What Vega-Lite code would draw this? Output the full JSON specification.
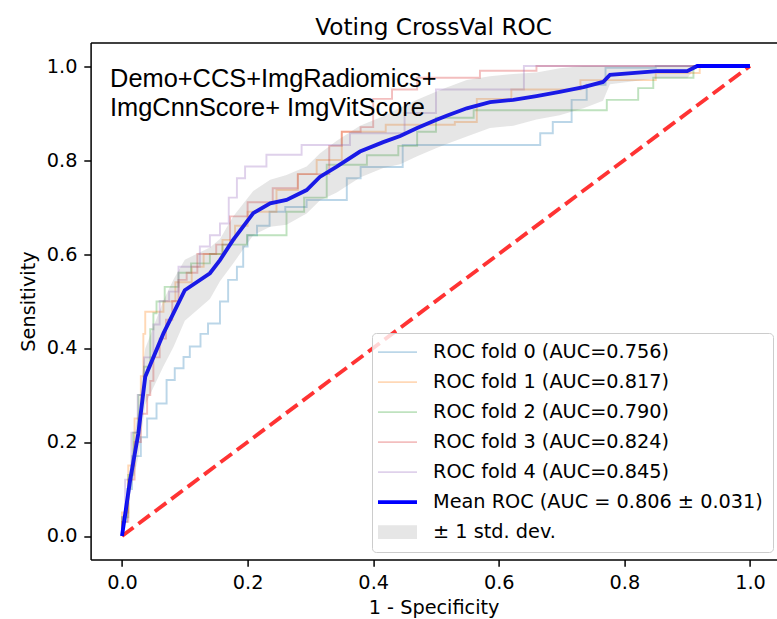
{
  "$schema": "https://vega.github.io/schema/vega-lite/v6.json",
  "autosize": {"type": "none"},
  "padding": {"left": 90.6, "top": 42.5, "right": 0, "bottom": 59.5},
  "width": 686,
  "height": 517,
  "background": "white",
  "title": {"text": "Voting CrossVal ROC", "font": "DejaVu Sans", "fontSize": 23.2, "fontWeight": "normal", "color": "black", "anchor": "middle", "baseline": "alphabetic", "offset": -15.5},
  "config": {
    "view": {"stroke": null},
    "font": "DejaVu Sans",
    "axis": {"labelFont": "DejaVu Sans", "labelFontSize": 19.3, "labelColor": "black", "titleFont": "DejaVu Sans", "titleFontSize": 19.3, "titleFontWeight": "normal", "titleColor": "black", "domainColor": "black", "domainWidth": 1.5, "tickColor": "black", "tickWidth": 1.5, "tickSize": 6.8, "labelPadding": 6.8}
  },
  "datasets": {
    "folds": [
      {"s":"ROC fold 0 (AUC=0.756)","fpr":0,"tpr":0},{"s":"ROC fold 0 (AUC=0.756)","fpr":0.008,"tpr":0.03},{"s":"ROC fold 0 (AUC=0.756)","fpr":0.016,"tpr":0.1},{"s":"ROC fold 0 (AUC=0.756)","fpr":0.03,"tpr":0.17},{"s":"ROC fold 0 (AUC=0.756)","fpr":0.04,"tpr":0.21},{"s":"ROC fold 0 (AUC=0.756)","fpr":0.055,"tpr":0.25},{"s":"ROC fold 0 (AUC=0.756)","fpr":0.071,"tpr":0.282},{"s":"ROC fold 0 (AUC=0.756)","fpr":0.084,"tpr":0.332},{"s":"ROC fold 0 (AUC=0.756)","fpr":0.098,"tpr":0.357},{"s":"ROC fold 0 (AUC=0.756)","fpr":0.108,"tpr":0.381},{"s":"ROC fold 0 (AUC=0.756)","fpr":0.125,"tpr":0.403},{"s":"ROC fold 0 (AUC=0.756)","fpr":0.137,"tpr":0.43},{"s":"ROC fold 0 (AUC=0.756)","fpr":0.156,"tpr":0.452},{"s":"ROC fold 0 (AUC=0.756)","fpr":0.169,"tpr":0.499},{"s":"ROC fold 0 (AUC=0.756)","fpr":0.183,"tpr":0.545},{"s":"ROC fold 0 (AUC=0.756)","fpr":0.193,"tpr":0.573},{"s":"ROC fold 0 (AUC=0.756)","fpr":0.2,"tpr":0.616},{"s":"ROC fold 0 (AUC=0.756)","fpr":0.215,"tpr":0.64},{"s":"ROC fold 0 (AUC=0.756)","fpr":0.235,"tpr":0.66},{"s":"ROC fold 0 (AUC=0.756)","fpr":0.26,"tpr":0.69},{"s":"ROC fold 0 (AUC=0.756)","fpr":0.294,"tpr":0.7},{"s":"ROC fold 0 (AUC=0.756)","fpr":0.358,"tpr":0.715},{"s":"ROC fold 0 (AUC=0.756)","fpr":0.38,"tpr":0.761},{"s":"ROC fold 0 (AUC=0.756)","fpr":0.447,"tpr":0.785},{"s":"ROC fold 0 (AUC=0.756)","fpr":0.666,"tpr":0.832},{"s":"ROC fold 0 (AUC=0.756)","fpr":0.686,"tpr":0.857},{"s":"ROC fold 0 (AUC=0.756)","fpr":0.716,"tpr":0.881},{"s":"ROC fold 0 (AUC=0.756)","fpr":0.74,"tpr":0.928},{"s":"ROC fold 0 (AUC=0.756)","fpr":0.77,"tpr":0.96},{"s":"ROC fold 0 (AUC=0.756)","fpr":0.85,"tpr":0.996},{"s":"ROC fold 0 (AUC=0.756)","fpr":1,"tpr":1},
      {"s":"ROC fold 1 (AUC=0.817)","fpr":0,"tpr":0},{"s":"ROC fold 1 (AUC=0.817)","fpr":0.01,"tpr":0.05},{"s":"ROC fold 1 (AUC=0.817)","fpr":0.02,"tpr":0.15},{"s":"ROC fold 1 (AUC=0.817)","fpr":0.03,"tpr":0.25},{"s":"ROC fold 1 (AUC=0.817)","fpr":0.034,"tpr":0.34},{"s":"ROC fold 1 (AUC=0.817)","fpr":0.037,"tpr":0.43},{"s":"ROC fold 1 (AUC=0.817)","fpr":0.066,"tpr":0.477},{"s":"ROC fold 1 (AUC=0.817)","fpr":0.085,"tpr":0.499},{"s":"ROC fold 1 (AUC=0.817)","fpr":0.111,"tpr":0.54},{"s":"ROC fold 1 (AUC=0.817)","fpr":0.13,"tpr":0.573},{"s":"ROC fold 1 (AUC=0.817)","fpr":0.16,"tpr":0.6},{"s":"ROC fold 1 (AUC=0.817)","fpr":0.18,"tpr":0.63},{"s":"ROC fold 1 (AUC=0.817)","fpr":0.2,"tpr":0.66},{"s":"ROC fold 1 (AUC=0.817)","fpr":0.246,"tpr":0.69},{"s":"ROC fold 1 (AUC=0.817)","fpr":0.28,"tpr":0.736},{"s":"ROC fold 1 (AUC=0.817)","fpr":0.31,"tpr":0.77},{"s":"ROC fold 1 (AUC=0.817)","fpr":0.35,"tpr":0.8},{"s":"ROC fold 1 (AUC=0.817)","fpr":0.42,"tpr":0.86},{"s":"ROC fold 1 (AUC=0.817)","fpr":0.53,"tpr":0.875},{"s":"ROC fold 1 (AUC=0.817)","fpr":0.565,"tpr":0.881},{"s":"ROC fold 1 (AUC=0.817)","fpr":0.62,"tpr":0.93},{"s":"ROC fold 1 (AUC=0.817)","fpr":0.73,"tpr":0.95},{"s":"ROC fold 1 (AUC=0.817)","fpr":0.85,"tpr":0.97},{"s":"ROC fold 1 (AUC=0.817)","fpr":0.92,"tpr":0.985},{"s":"ROC fold 1 (AUC=0.817)","fpr":1,"tpr":1},
      {"s":"ROC fold 2 (AUC=0.790)","fpr":0,"tpr":0},{"s":"ROC fold 2 (AUC=0.790)","fpr":0.01,"tpr":0.04},{"s":"ROC fold 2 (AUC=0.790)","fpr":0.018,"tpr":0.13},{"s":"ROC fold 2 (AUC=0.790)","fpr":0.026,"tpr":0.22},{"s":"ROC fold 2 (AUC=0.790)","fpr":0.035,"tpr":0.3},{"s":"ROC fold 2 (AUC=0.790)","fpr":0.045,"tpr":0.36},{"s":"ROC fold 2 (AUC=0.790)","fpr":0.05,"tpr":0.44},{"s":"ROC fold 2 (AUC=0.790)","fpr":0.055,"tpr":0.474},{"s":"ROC fold 2 (AUC=0.790)","fpr":0.068,"tpr":0.499},{"s":"ROC fold 2 (AUC=0.790)","fpr":0.09,"tpr":0.53},{"s":"ROC fold 2 (AUC=0.790)","fpr":0.11,"tpr":0.56},{"s":"ROC fold 2 (AUC=0.790)","fpr":0.14,"tpr":0.58},{"s":"ROC fold 2 (AUC=0.790)","fpr":0.16,"tpr":0.6},{"s":"ROC fold 2 (AUC=0.790)","fpr":0.199,"tpr":0.62},{"s":"ROC fold 2 (AUC=0.790)","fpr":0.262,"tpr":0.64},{"s":"ROC fold 2 (AUC=0.790)","fpr":0.29,"tpr":0.69},{"s":"ROC fold 2 (AUC=0.790)","fpr":0.326,"tpr":0.72},{"s":"ROC fold 2 (AUC=0.790)","fpr":0.39,"tpr":0.79},{"s":"ROC fold 2 (AUC=0.790)","fpr":0.44,"tpr":0.81},{"s":"ROC fold 2 (AUC=0.790)","fpr":0.47,"tpr":0.83},{"s":"ROC fold 2 (AUC=0.790)","fpr":0.5,"tpr":0.86},{"s":"ROC fold 2 (AUC=0.790)","fpr":0.56,"tpr":0.89},{"s":"ROC fold 2 (AUC=0.790)","fpr":0.772,"tpr":0.906},{"s":"ROC fold 2 (AUC=0.790)","fpr":0.822,"tpr":0.928},{"s":"ROC fold 2 (AUC=0.790)","fpr":0.846,"tpr":0.953},{"s":"ROC fold 2 (AUC=0.790)","fpr":0.91,"tpr":0.975},{"s":"ROC fold 2 (AUC=0.790)","fpr":1,"tpr":1},
      {"s":"ROC fold 3 (AUC=0.824)","fpr":0,"tpr":0},{"s":"ROC fold 3 (AUC=0.824)","fpr":0.01,"tpr":0.03},{"s":"ROC fold 3 (AUC=0.824)","fpr":0.02,"tpr":0.12},{"s":"ROC fold 3 (AUC=0.824)","fpr":0.03,"tpr":0.2},{"s":"ROC fold 3 (AUC=0.824)","fpr":0.04,"tpr":0.26},{"s":"ROC fold 3 (AUC=0.824)","fpr":0.045,"tpr":0.3},{"s":"ROC fold 3 (AUC=0.824)","fpr":0.05,"tpr":0.33},{"s":"ROC fold 3 (AUC=0.824)","fpr":0.06,"tpr":0.38},{"s":"ROC fold 3 (AUC=0.824)","fpr":0.07,"tpr":0.42},{"s":"ROC fold 3 (AUC=0.824)","fpr":0.08,"tpr":0.46},{"s":"ROC fold 3 (AUC=0.824)","fpr":0.09,"tpr":0.5},{"s":"ROC fold 3 (AUC=0.824)","fpr":0.103,"tpr":0.545},{"s":"ROC fold 3 (AUC=0.824)","fpr":0.12,"tpr":0.56},{"s":"ROC fold 3 (AUC=0.824)","fpr":0.15,"tpr":0.6},{"s":"ROC fold 3 (AUC=0.824)","fpr":0.172,"tpr":0.62},{"s":"ROC fold 3 (AUC=0.824)","fpr":0.2,"tpr":0.68},{"s":"ROC fold 3 (AUC=0.824)","fpr":0.24,"tpr":0.71},{"s":"ROC fold 3 (AUC=0.824)","fpr":0.28,"tpr":0.74},{"s":"ROC fold 3 (AUC=0.824)","fpr":0.33,"tpr":0.77},{"s":"ROC fold 3 (AUC=0.824)","fpr":0.35,"tpr":0.83},{"s":"ROC fold 3 (AUC=0.824)","fpr":0.38,"tpr":0.86},{"s":"ROC fold 3 (AUC=0.824)","fpr":0.4,"tpr":0.87},{"s":"ROC fold 3 (AUC=0.824)","fpr":0.43,"tpr":0.93},{"s":"ROC fold 3 (AUC=0.824)","fpr":0.47,"tpr":0.95},{"s":"ROC fold 3 (AUC=0.824)","fpr":0.57,"tpr":0.975},{"s":"ROC fold 3 (AUC=0.824)","fpr":0.66,"tpr":0.99},{"s":"ROC fold 3 (AUC=0.824)","fpr":1,"tpr":1},
      {"s":"ROC fold 4 (AUC=0.845)","fpr":0,"tpr":0},{"s":"ROC fold 4 (AUC=0.845)","fpr":0.005,"tpr":0.04},{"s":"ROC fold 4 (AUC=0.845)","fpr":0.015,"tpr":0.12},{"s":"ROC fold 4 (AUC=0.845)","fpr":0.025,"tpr":0.22},{"s":"ROC fold 4 (AUC=0.845)","fpr":0.035,"tpr":0.3},{"s":"ROC fold 4 (AUC=0.845)","fpr":0.05,"tpr":0.38},{"s":"ROC fold 4 (AUC=0.845)","fpr":0.06,"tpr":0.45},{"s":"ROC fold 4 (AUC=0.845)","fpr":0.075,"tpr":0.5},{"s":"ROC fold 4 (AUC=0.845)","fpr":0.09,"tpr":0.52},{"s":"ROC fold 4 (AUC=0.845)","fpr":0.124,"tpr":0.573},{"s":"ROC fold 4 (AUC=0.845)","fpr":0.14,"tpr":0.616},{"s":"ROC fold 4 (AUC=0.845)","fpr":0.156,"tpr":0.64},{"s":"ROC fold 4 (AUC=0.845)","fpr":0.17,"tpr":0.665},{"s":"ROC fold 4 (AUC=0.845)","fpr":0.183,"tpr":0.72},{"s":"ROC fold 4 (AUC=0.845)","fpr":0.196,"tpr":0.761},{"s":"ROC fold 4 (AUC=0.845)","fpr":0.23,"tpr":0.786},{"s":"ROC fold 4 (AUC=0.845)","fpr":0.286,"tpr":0.811},{"s":"ROC fold 4 (AUC=0.845)","fpr":0.363,"tpr":0.832},{"s":"ROC fold 4 (AUC=0.845)","fpr":0.45,"tpr":0.857},{"s":"ROC fold 4 (AUC=0.845)","fpr":0.5,"tpr":0.9},{"s":"ROC fold 4 (AUC=0.845)","fpr":0.64,"tpr":0.95},{"s":"ROC fold 4 (AUC=0.845)","fpr":1,"tpr":1}
    ],
    "chance": [{"fpr":0,"tpr":0},{"fpr":1,"tpr":1}],
    "mean": [
      {"s":"Mean ROC (AUC = 0.806 ± 0.031)","fpr":0,"tpr":0},{"s":"Mean ROC (AUC = 0.806 ± 0.031)","fpr":0.013,"tpr":0.119},{"s":"Mean ROC (AUC = 0.806 ± 0.031)","fpr":0.026,"tpr":0.218},{"s":"Mean ROC (AUC = 0.806 ± 0.031)","fpr":0.037,"tpr":0.339},{"s":"Mean ROC (AUC = 0.806 ± 0.031)","fpr":0.066,"tpr":0.431},{"s":"Mean ROC (AUC = 0.806 ± 0.031)","fpr":0.082,"tpr":0.474},{"s":"Mean ROC (AUC = 0.806 ± 0.031)","fpr":0.1,"tpr":0.523},{"s":"Mean ROC (AUC = 0.806 ± 0.031)","fpr":0.14,"tpr":0.559},{"s":"Mean ROC (AUC = 0.806 ± 0.031)","fpr":0.156,"tpr":0.587},{"s":"Mean ROC (AUC = 0.806 ± 0.031)","fpr":0.177,"tpr":0.63},{"s":"Mean ROC (AUC = 0.806 ± 0.031)","fpr":0.209,"tpr":0.687},{"s":"Mean ROC (AUC = 0.806 ± 0.031)","fpr":0.236,"tpr":0.708},{"s":"Mean ROC (AUC = 0.806 ± 0.031)","fpr":0.262,"tpr":0.715},{"s":"Mean ROC (AUC = 0.806 ± 0.031)","fpr":0.294,"tpr":0.736},{"s":"Mean ROC (AUC = 0.806 ± 0.031)","fpr":0.315,"tpr":0.764},{"s":"Mean ROC (AUC = 0.806 ± 0.031)","fpr":0.342,"tpr":0.786},{"s":"Mean ROC (AUC = 0.806 ± 0.031)","fpr":0.379,"tpr":0.818},{"s":"Mean ROC (AUC = 0.806 ± 0.031)","fpr":0.416,"tpr":0.838},{"s":"Mean ROC (AUC = 0.806 ± 0.031)","fpr":0.443,"tpr":0.851},{"s":"Mean ROC (AUC = 0.806 ± 0.031)","fpr":0.47,"tpr":0.868},{"s":"Mean ROC (AUC = 0.806 ± 0.031)","fpr":0.5,"tpr":0.885},{"s":"Mean ROC (AUC = 0.806 ± 0.031)","fpr":0.517,"tpr":0.894},{"s":"Mean ROC (AUC = 0.806 ± 0.031)","fpr":0.549,"tpr":0.91},{"s":"Mean ROC (AUC = 0.806 ± 0.031)","fpr":0.586,"tpr":0.923},{"s":"Mean ROC (AUC = 0.806 ± 0.031)","fpr":0.623,"tpr":0.928},{"s":"Mean ROC (AUC = 0.806 ± 0.031)","fpr":0.66,"tpr":0.936},{"s":"Mean ROC (AUC = 0.806 ± 0.031)","fpr":0.697,"tpr":0.945},{"s":"Mean ROC (AUC = 0.806 ± 0.031)","fpr":0.735,"tpr":0.955},{"s":"Mean ROC (AUC = 0.806 ± 0.031)","fpr":0.766,"tpr":0.966},{"s":"Mean ROC (AUC = 0.806 ± 0.031)","fpr":0.777,"tpr":0.981},{"s":"Mean ROC (AUC = 0.806 ± 0.031)","fpr":0.852,"tpr":0.989},{"s":"Mean ROC (AUC = 0.806 ± 0.031)","fpr":0.9,"tpr":0.989},{"s":"Mean ROC (AUC = 0.806 ± 0.031)","fpr":0.916,"tpr":1},{"s":"Mean ROC (AUC = 0.806 ± 0.031)","fpr":1,"tpr":1}
    ],
    "band": [
      {"s":"± 1 std. dev.","fpr":0,"lo":0,"hi":0},{"s":"± 1 std. dev.","fpr":0.013,"lo":0.089,"hi":0.149},{"s":"± 1 std. dev.","fpr":0.026,"lo":0.168,"hi":0.268},{"s":"± 1 std. dev.","fpr":0.037,"lo":0.279,"hi":0.399},{"s":"± 1 std. dev.","fpr":0.066,"lo":0.361,"hi":0.501},{"s":"± 1 std. dev.","fpr":0.082,"lo":0.402,"hi":0.546},{"s":"± 1 std. dev.","fpr":0.1,"lo":0.458,"hi":0.588},{"s":"± 1 std. dev.","fpr":0.14,"lo":0.504,"hi":0.614},{"s":"± 1 std. dev.","fpr":0.156,"lo":0.542,"hi":0.632},{"s":"± 1 std. dev.","fpr":0.177,"lo":0.58,"hi":0.68},{"s":"± 1 std. dev.","fpr":0.209,"lo":0.64,"hi":0.734},{"s":"± 1 std. dev.","fpr":0.236,"lo":0.658,"hi":0.758},{"s":"± 1 std. dev.","fpr":0.262,"lo":0.662,"hi":0.768},{"s":"± 1 std. dev.","fpr":0.294,"lo":0.686,"hi":0.786},{"s":"± 1 std. dev.","fpr":0.315,"lo":0.714,"hi":0.814},{"s":"± 1 std. dev.","fpr":0.342,"lo":0.731,"hi":0.841},{"s":"± 1 std. dev.","fpr":0.379,"lo":0.763,"hi":0.873},{"s":"± 1 std. dev.","fpr":0.416,"lo":0.783,"hi":0.893},{"s":"± 1 std. dev.","fpr":0.443,"lo":0.791,"hi":0.911},{"s":"± 1 std. dev.","fpr":0.47,"lo":0.808,"hi":0.928},{"s":"± 1 std. dev.","fpr":0.5,"lo":0.825,"hi":0.945},{"s":"± 1 std. dev.","fpr":0.517,"lo":0.834,"hi":0.954},{"s":"± 1 std. dev.","fpr":0.549,"lo":0.85,"hi":0.97},{"s":"± 1 std. dev.","fpr":0.586,"lo":0.868,"hi":0.978},{"s":"± 1 std. dev.","fpr":0.623,"lo":0.873,"hi":0.983},{"s":"± 1 std. dev.","fpr":0.66,"lo":0.886,"hi":0.986},{"s":"± 1 std. dev.","fpr":0.697,"lo":0.895,"hi":0.995},{"s":"± 1 std. dev.","fpr":0.735,"lo":0.91,"hi":1},{"s":"± 1 std. dev.","fpr":0.766,"lo":0.926,"hi":1},{"s":"± 1 std. dev.","fpr":0.777,"lo":0.961,"hi":1},{"s":"± 1 std. dev.","fpr":0.852,"lo":0.974,"hi":1},{"s":"± 1 std. dev.","fpr":0.9,"lo":0.974,"hi":1},{"s":"± 1 std. dev.","fpr":0.916,"lo":1,"hi":1},{"s":"± 1 std. dev.","fpr":1,"lo":1,"hi":1}
    ],
    "note": [{"t": ["Demo+CCS+ImgRadiomics+", "ImgCnnScore+ ImgVitScore"]}]
  },
  "layer": [
    {
      "data": {"name": "folds"},
      "mark": {"type": "line", "interpolate": "step-before", "strokeWidth": 1.93, "opacity": 0.3},
      "encoding": {
        "x": {"field": "fpr", "type": "quantitative", "scale": {"domain": [-0.05, 1.0424], "nice": false, "zero": false},
          "axis": {"title": "1 - Specificity", "values": [0, 0.2, 0.4, 0.6, 0.8, 1.0], "format": ".1f", "grid": false, "titlePadding": 6}},
        "y": {"field": "tpr", "type": "quantitative", "scale": {"domain": [-0.05, 1.05], "nice": false, "zero": false},
          "axis": {"title": "Sensitivity", "values": [0, 0.2, 0.4, 0.6, 0.8, 1.0, 1.05], "labelExpr": "datum.value > 1.01 ? '' : format(datum.value, '.1f')", "grid": true, "gridColor": "black", "gridWidth": 1.5,
            "gridOpacity": {"condition": {"test": "datum.value > 1.01", "value": 1}, "value": 0},
            "tickOpacity": {"condition": {"test": "datum.value > 1.01", "value": 0}, "value": 1},
            "titlePadding": 8}},
        "color": {"field": "s", "type": "nominal",
          "scale": {"domain": ["ROC fold 0 (AUC=0.756)", "ROC fold 1 (AUC=0.817)", "ROC fold 2 (AUC=0.790)", "ROC fold 3 (AUC=0.824)", "ROC fold 4 (AUC=0.845)", "Mean ROC (AUC = 0.806 ± 0.031)", "± 1 std. dev."],
                    "range": ["#1f77b4", "#ff7f0e", "#2ca02c", "#d62728", "#9467bd", "#0000ff", "#808080"]},
          "legend": {"title": null, "orient": "none", "legendX": 281.4, "legendY": 290.5, "padding": 9.5, "rowPadding": 10,
            "symbolSize": 16, "symbolStrokeWidth": 0, "labelFont": "DejaVu Sans", "labelFontSize": 19.3, "labelColor": "black",
            "labelOffset": 32.2, "labelLimit": 0, "fillColor": "rgba(255,255,255,0.8)", "strokeColor": "#cccccc", "cornerRadius": 4,
            "encoding": {"symbols": {
              "shape": {"condition": [
                {"test": "datum.value === 'Mean ROC (AUC = 0.806 ± 0.031)'", "value": "M-6.575,-0.97H12.925V0.97H-6.575Z"},
                {"test": "datum.value === '± 1 std. dev.'", "value": "M-6.575,-3.4H12.925V3.4H-6.575Z"}],
                "value": "M-6.575,-0.48H12.925V0.48H-6.575Z"},
              "fill": {"value": {"expr": "scale('color', datum.value)"}},
              "opacity": {"condition": [
                {"test": "datum.value === 'Mean ROC (AUC = 0.806 ± 0.031)'", "value": 1},
                {"test": "datum.value === '± 1 std. dev.'", "value": 0.2}],
                "value": 0.3},
              "stroke": {"value": "transparent"},
              "strokeWidth": {"value": 0}
            }}}
        }
      }
    },
    {
      "data": {"name": "chance"},
      "mark": {"type": "line", "color": "#ff0000", "opacity": 0.8, "strokeWidth": 3.86, "strokeDash": [14.3, 6.2], "strokeCap": "butt"},
      "encoding": {
        "x": {"field": "fpr", "type": "quantitative"},
        "y": {"field": "tpr", "type": "quantitative"}
      }
    },
    {
      "data": {"name": "mean"},
      "mark": {"type": "line", "strokeWidth": 3.86},
      "encoding": {
        "x": {"field": "fpr", "type": "quantitative"},
        "y": {"field": "tpr", "type": "quantitative"},
        "color": {"field": "s", "type": "nominal"}
      }
    },
    {
      "data": {"name": "band"},
      "mark": {"type": "area", "opacity": 0.2},
      "encoding": {
        "x": {"field": "fpr", "type": "quantitative"},
        "y": {"field": "lo", "type": "quantitative"},
        "y2": {"field": "hi"},
        "color": {"field": "s", "type": "nominal"}
      }
    },
    {
      "data": {"name": "note"},
      "mark": {"type": "text", "align": "left", "baseline": "alphabetic", "font": "Liberation Sans", "fontSize": 25.4, "lineHeight": 29, "color": "black"},
      "encoding": {
        "x": {"datum": -0.019, "type": "quantitative"},
        "y": {"datum": 0.955, "type": "quantitative"},
        "text": {"field": "t"}
      }
    }
  ]
}
